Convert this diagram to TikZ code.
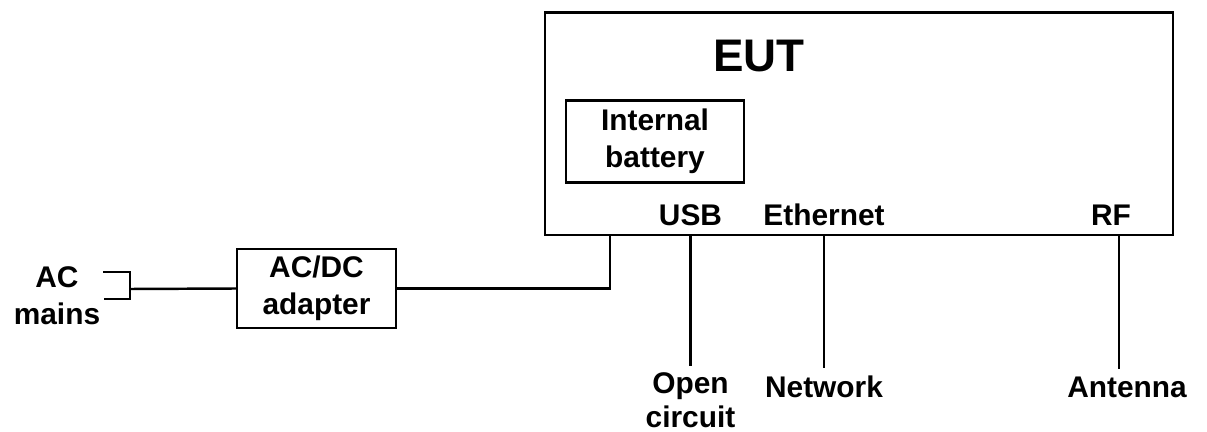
\documentclass[tikz,border=0pt]{standalone}
\usepackage{fontspec}
\setmainfont{Liberation Sans}
\usetikzlibrary{positioning,calc}

\begin{document}
\begin{tikzpicture}[x=0.02cm, y=-0.02cm, line width=1.4pt,
  unit/.style={draw, rectangle, inner sep=0pt, align=center, font=\fontsize{17}{21}\selectfont\bfseries},
  lbl/.style={align=center, font=\fontsize{17}{21}\selectfont\bfseries}]
\useasboundingbox (0,0) rectangle (1207,432);

% Equipment under test and its parts
\node (eut) [unit, minimum width=12.56cm, minimum height=4.45cm] at (859,123.75) {};
\node (eutname) [lbl, anchor=base, font=\fontsize{26}{30}\selectfont\bfseries] at (759,72) {EUT};
\node (battery) [unit, minimum width=3.56cm, minimum height=1.64cm] at (655,141.7) {Internal\\battery};
\node (usb) [lbl, anchor=base] at (690.5,226) {USB};
\node (eth) [lbl, anchor=base] at (824,226) {Ethernet};
\node (rf) [lbl, anchor=base] at (1111,226) {RF};

% Power supply chain
\node (adapter) [unit, minimum width=3.18cm, minimum height=1.58cm] at (316.5,288.5) {AC/DC\\adapter};
\node (mains) [lbl, anchor=north] at (57,260) {AC\\mains};
\coordinate (plug) at (130,289);
\coordinate (dcin) at (610,235);
\coordinate (rfpin) at (1119,235);

% Port terminations
\node (open) [lbl, anchor=north, font=\fontsize{17}{19}\selectfont\bfseries] at (690.5,366) {Open\\circuit};
\node (network) [lbl, anchor=base] at (824,397) {Network};
\node (antenna) [lbl, anchor=base] at (1127,397) {Antenna};

% Mains plug
\draw (103,272) -- (plug |- 0,272) -- (plug |- 0,299) -- (104,299);

% Cables
\draw (plug) -- (adapter.west);
\draw (adapter.east) -| (dcin);
\draw (eut.south -| usb) -- (usb |- open.north);
\draw (eut.south -| eth) -- (eth |- network.north);
\draw (rfpin) -- (rfpin |- antenna.north);
\end{tikzpicture}
\end{document}
